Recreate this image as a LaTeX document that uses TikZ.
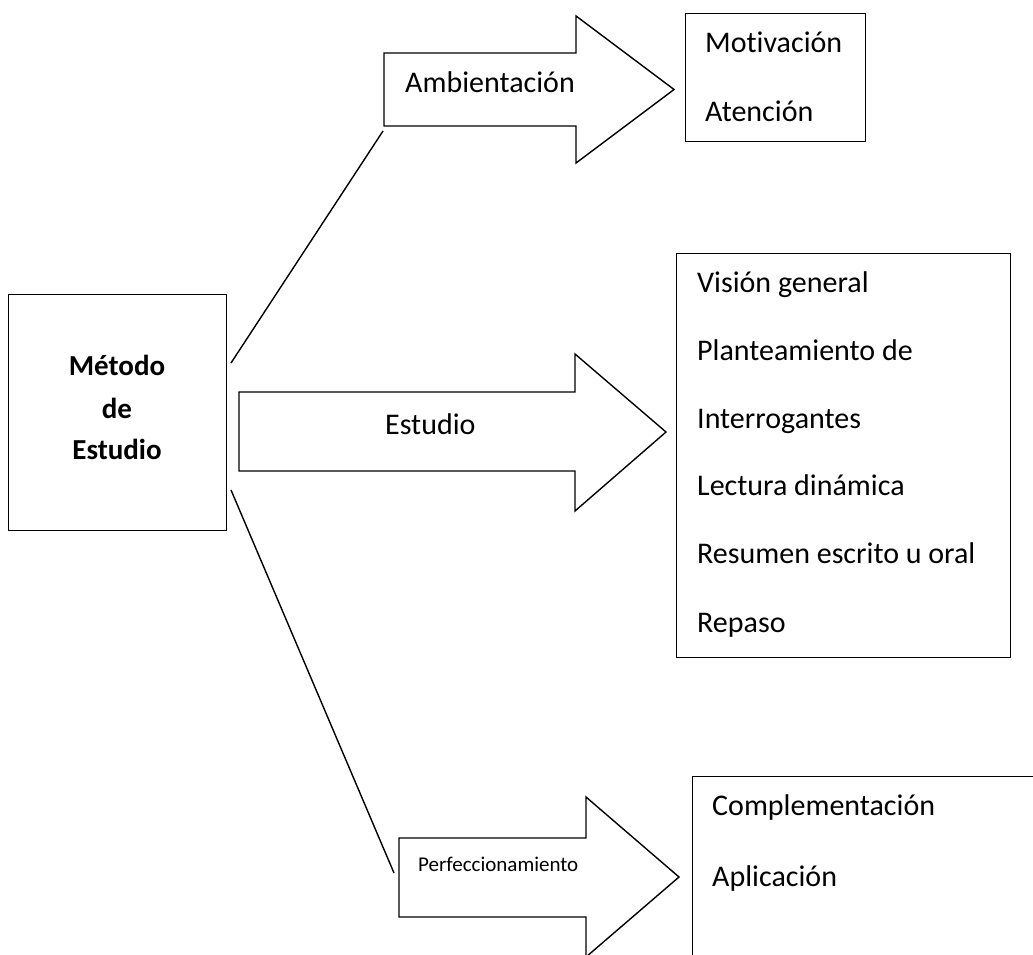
\documentclass[tikz,border=0pt]{standalone}
\usepackage{fontspec}
\setmainfont{Carlito}[Ligatures=NoCommon]
\begin{document}
\begin{tikzpicture}[x=1pt,y=-1pt,
  frame/.style={draw=black, line width=1.4pt, inner sep=0pt, fill=none},
  arrowshape/.style={draw=black, line width=1.4pt, line join=miter},
  conn/.style={draw=black, line width=1.4pt},
  txt/.style={font=\fontsize{30}{36}\selectfont, anchor=base west, inner sep=0pt},
  smalltxt/.style={font=\fontsize{21}{25}\selectfont, anchor=base west, inner sep=0pt},
  boldtxt/.style={font=\bfseries\fontsize{29}{35}\selectfont, anchor=base, inner sep=0pt}]
\useasboundingbox (0,0) rectangle (1033,955);
\clip (0,0) rectangle (1033,955);

% main box
\node[frame, anchor=north west, minimum width=218pt, minimum height=236pt] (met) at (8,294) {};
\node[boldtxt] (met1) at (117,375) {Método};
\node[boldtxt] (met2) at (117,418) {de};
\node[boldtxt] (met3) at (117,459) {Estudio};

% result boxes
\node[frame, anchor=north west, minimum width=180pt, minimum height=128pt] (b1) at (685,13) {};
\node[txt] (b1a) at (705,53) {Motivación};
\node[txt] (b1b) at (705,122) {Atención};

\node[frame, anchor=north west, minimum width=334pt, minimum height=404pt] (b2) at (676,253) {};
\node[txt] (b2a) at (697,292) {Visión general};
\node[txt] (b2b) at (697,360) {Planteamiento de};
\node[txt] (b2c) at (697,428) {Interrogantes};
\node[txt] (b2d) at (697,495) {Lectura dinámica};
\node[txt] (b2e) at (697,563) {Resumen escrito u oral};
\node[txt] (b2f) at (697,632) {Repaso};

\node[frame, anchor=north west, minimum width=360pt, minimum height=200pt] (b3) at (692,776) {};
\node[txt] (b3a) at (712,815) {Complementación};
\node[txt] (b3b) at (712,886) {Aplicación};

% block arrows
\draw[arrowshape] (384,53) -- (576,53) -- (576,16) -- (674,89.5) -- (576,163) -- (576,126) -- (384,126) -- cycle;
\node[txt] (amb) at (405,93) {Ambientación};

\draw[arrowshape] (239,392) -- (575,392) -- (575,354) -- (666,432) -- (575,511) -- (575,471) -- (239,471) -- cycle;
\node[txt] (est) at (385,434) {Estudio};

\draw[arrowshape] (399,838) -- (586,838) -- (586,797) -- (679,877) -- (586,957) -- (586,917) -- (399,917) -- cycle;
\node[smalltxt] (perf) at (418,871) {Perfeccionamiento};

% connectors
\coordinate (c1s) at (231,363);
\coordinate (c1e) at (383,131);
\coordinate (c2s) at (231,490);
\coordinate (c2e) at (394,873);
\draw[conn] (c1s) -- (c1e);
\draw[conn] (c2s) -- (c2e);
\end{tikzpicture}
\end{document}
